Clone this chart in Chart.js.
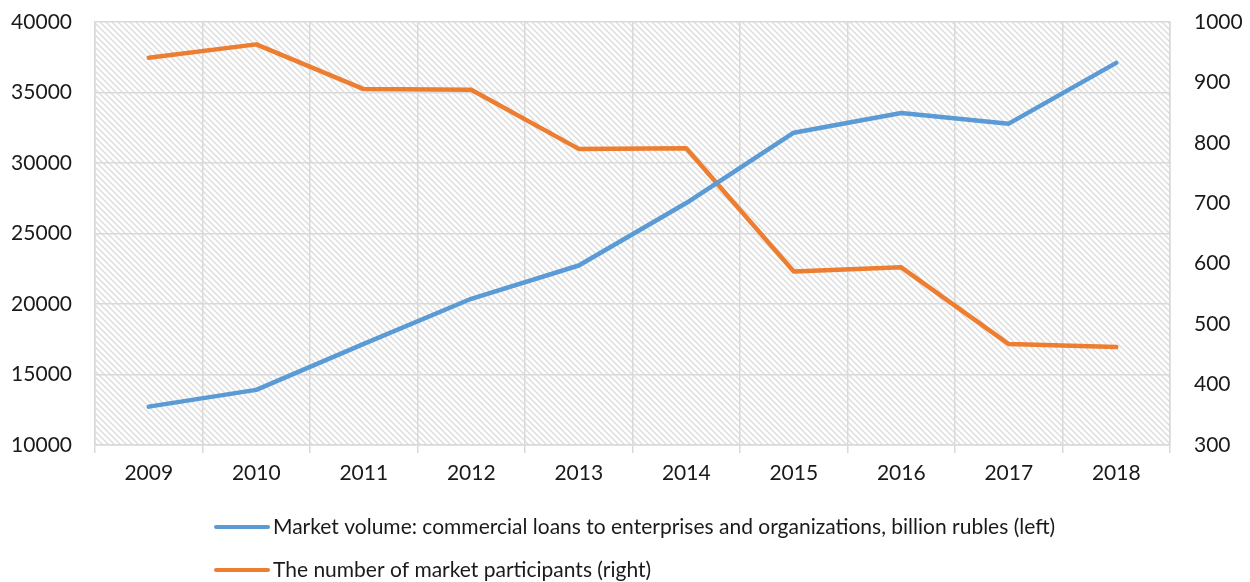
<!DOCTYPE html>
<html>
<head>
<meta charset="utf-8">
<script src="https://cdn.jsdelivr.net/npm/chart.js@4"></script>
<style>
  html, body { margin: 0; padding: 0; background: #fff; }
  #wrap { width: 1250px; height: 582px; }
</style>
</head>
<body>
<div id="wrap"><canvas id="marketChart"></canvas></div>
<script>
let years = ['2009', '2010', '2011', '2012', '2013', '2014', '2015', '2016', '2017', '2018'];
let loanVolume = [12720, 13910, 17170, 20370, 22730, 27160, 32150, 33550, 32790, 37100];
let participants = [941, 963, 889, 888, 790, 791, 587, 594, 467, 462];
let volumeLabel = 'Market volume: commercial loans to enterprises and organizations, billion rubles (left)';
let participantsLabel = 'The number of market participants (right)';

let gridColor = '#d9d9d9';

// diagonal hatch for the plot area
function makeHatch(ctx) {
    let tile = document.createElement('canvas');
    tile.width = 6;
    tile.height = 6;
    let t = tile.getContext('2d');
    t.strokeStyle = '#dedede';
    t.lineWidth = 1.5;
    t.beginPath();
    t.moveTo(-1, -1); t.lineTo(7, 7);
    t.moveTo(-1, 5); t.lineTo(1, 7);
    t.moveTo(5, -1); t.lineTo(7, 1);
    t.stroke();
    return ctx.createPattern(tile, 'repeat');
}

const hatchBackground = {
    id: 'hatchBackground',
    beforeDraw(chart) {
        let a = chart.chartArea, ctx = chart.ctx;
        ctx.save();
        ctx.fillStyle = makeHatch(ctx);
        ctx.fillRect(a.left, a.top, a.right - a.left, a.bottom - a.top);
        ctx.restore();
    }
};

// legend drawn underneath, one item per row, like the original
const stackedLegend = {
    id: 'stackedLegend',
    afterDraw(chart) {
        let ctx = chart.ctx;
        let rows = [527, 570];
        ctx.save();
        ctx.font = '21px Lato';
        ctx.textBaseline = 'middle';
        chart.data.datasets.forEach(function(ds, i) {
            let y = rows[i];
            ctx.strokeStyle = ds.borderColor;
            ctx.lineWidth = 4;
            ctx.lineCap = 'round';
            ctx.beginPath();
            ctx.moveTo(216, y);
            ctx.lineTo(268, y);
            ctx.stroke();
            ctx.fillStyle = '#1a1a1a';
            ctx.fillText(ds.label, 273, y);
        });
        ctx.restore();
    }
};

function plainNumber(v) { return String(v); }

// fixed axis sizes so the plot area sits where the original one does
function fitY(width) {
    return function(s) {
        s.width = width;
        s.paddingTop = 0;
        s.paddingBottom = 0;
    };
}

Chart.defaults.font.family = 'Lato';
Chart.defaults.font.size = 21;
Chart.defaults.color = '#1a1a1a';

let cx = document.getElementById('marketChart').getContext('2d');
let marketChart = new Chart(cx, {
    type: 'line',
    data: {
        labels: years,
        datasets: [{
            label: volumeLabel,
            data: loanVolume,
            yAxisID: 'yLeft',
            borderColor: '#5b9bd5',
            backgroundColor: '#5b9bd5',
            borderWidth: 4.5,
            borderCapStyle: 'round',
            borderJoinStyle: 'round',
            pointRadius: 0,
            tension: 0
        }, {
            label: participantsLabel,
            data: participants,
            yAxisID: 'yRight',
            borderColor: '#ed7d31',
            backgroundColor: '#ed7d31',
            borderWidth: 4.5,
            borderCapStyle: 'round',
            borderJoinStyle: 'round',
            pointRadius: 0,
            tension: 0
        }]
    },
    options: {
        responsive: true,
        maintainAspectRatio: false,
        animation: false,
        layout: {
            padding: { top: 22, bottom: 87, left: 0, right: 0 }
        },
        plugins: {
            legend: { display: false },
            tooltip: { enabled: false }
        },
        scales: {
            x: {
                offset: true,
                grid: {
                    color: gridColor,
                    lineWidth: 1.5,
                    offset: true,
                    tickLength: 8
                },
                border: { color: gridColor, width: 1.5 },
                ticks: { padding: 8 },
                afterFit: function(s) { s.height = 50; }
            },
            yLeft: {
                position: 'left',
                min: 10000,
                max: 40000,
                ticks: { stepSize: 5000, padding: 23, callback: plainNumber },
                grid: { color: gridColor, lineWidth: 1.5, drawTicks: false },
                border: { color: gridColor, width: 1.5 },
                afterFit: fitY(95)
            },
            yRight: {
                position: 'right',
                min: 300,
                max: 1000,
                ticks: { stepSize: 100, padding: 24, callback: plainNumber },
                grid: { display: false, drawTicks: false },
                border: { color: gridColor, width: 1.5 },
                afterFit: fitY(80)
            }
        }
    },
    plugins: [hatchBackground, stackedLegend]
});
</script>
</body>
</html>
